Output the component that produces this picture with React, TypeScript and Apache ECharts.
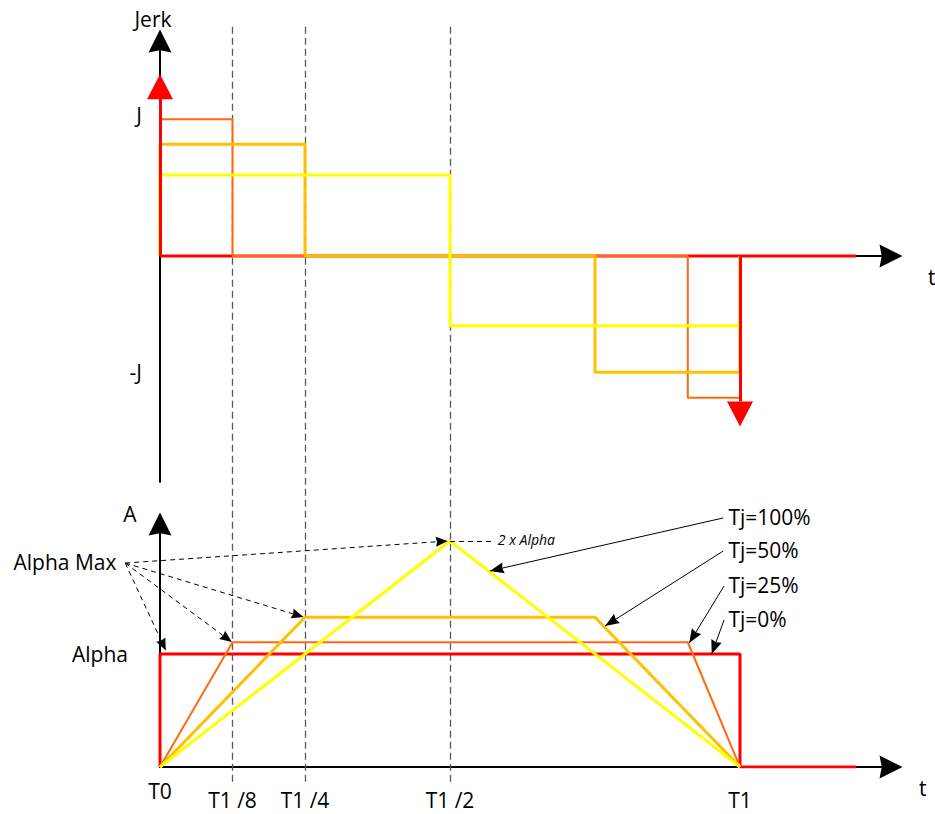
import React, { useEffect, useRef } from 'react';
import * as echarts from 'echarts';

// ---------------- data ----------------
// time is measured in units of T1/8, jerk in units of J, acceleration in units of Alpha
const TIME_TICKS = [0, 1, 2, 4, 8];
const TIME_TICK_LABELS = ['T0', 'T1 /8', 'T1 /4', 'T1 /2', 'T1'];
const GUIDE_TIMES = [1, 2, 4];
const GUIDE_SPAN = [-0.13, 6.56];

const JERK_TICKS = [1, -0.82];
const JERK_TICK_LABELS = ['J', '-J'];
const ACC_TICKS = [1];
const ACC_TICK_LABELS = ['Alpha'];

// jerk profiles [t, jerk]
const JERK_TJ0 = [[0, 0], [9.6, 0]];
const JERK_TJ0_IMPULSES = [[0, 1.11], [8, -1.03]];
const JERK_TJ25 = [[0, 0], [0, 0.968], [1, 0.968], [1, 0], [7.28, 0], [7.28, -1.003], [8, -1.003], [8, 0]];
const JERK_TJ50 = [[0, 0], [0, 0.791], [2, 0.791], [2, 0], [6, 0], [6, -0.823], [8, -0.823], [8, 0]];
const JERK_TJ100 = [[0, 0], [0, 0.573], [4, 0.573], [4, -0.493], [8, -0.493], [8, 0]];

// acceleration profiles [t, acc]
const ACC_TJ0 = [[0, 0], [0, 1], [8, 1], [8, 0], [9.6, 0]];
const ACC_TJ25 = [[0, 0], [1, 1.104], [7.28, 1.104], [8, 0]];
const ACC_TJ50 = [[0, 0], [2, 1.325], [6, 1.325], [8, 0]];
const ACC_TJ100 = [[0, 0], [4, 2], [8, 0]];

// annotations (overlay: time units, acceleration units)
const ALPHA_MAX_FROM = [-0.48, 1.805];
const ALPHA_MAX_TARGETS = [[0.08, 1.03], [0.99, 1.106], [1.98, 1.327], [3.97, 2.0]];
const TWO_ALPHA_LINE = [[4, 2.0], [4.6, 2.0]];
const TJ_ARROWS_FROM = [[7.77, 2.204], [7.77, 1.912], [7.78, 1.602], [7.78, 1.301]];
const TJ_ARROWS_TO = [[4.55, 1.735], [6.14, 1.248], [7.3, 1.097], [7.61, 1.0]];
const NOTE_TEXTS = ['Alpha Max', '2 x Alpha', 'Tj=100%', 'Tj=50%', 'Tj=25%', 'Tj=0%'];
const NOTE_POSITIONS = [[-0.6, 1.814], [4.66, 2.009], [7.84, 2.212], [7.84, 1.92], [7.84, 1.611], [7.84, 1.31]];

// ---------------- layout ----------------
const FONT = "'Open Sans', 'DejaVu Sans', sans-serif";
const X0 = 160;
const PX_PER_T = 72.5;
const X_END = 891;
const TOP_ZERO = 256, PX_PER_J = 141.25, TOP_TOP = 41, TOP_BOTTOM = 482;
const BOT_ZERO = 767, PX_PER_A = 113, BOT_TOP = 524;
const OV_XMIN = -2, OV_XMAX = 10.5, OV_YMIN = -0.25, OV_YMAX = 6.6;

const T_MAX = (X_END - X0) / PX_PER_T;
const J_MIN = -(TOP_BOTTOM - TOP_ZERO) / PX_PER_J;
const J_MAX = (TOP_ZERO - TOP_TOP) / PX_PER_J;
const A_MAX = (BOT_ZERO - BOT_TOP) / PX_PER_A;

const ARROW = 'path://M50,0 L100,100 L50,90 L0,100 Z';
const RED = '#FF0000', ORANGE_RED = '#FF6A10', ORANGE = '#FFC000', YELLOW = '#FFFF00';

const txt = { color: '#000', fontFamily: FONT, fontSize: 21 };

function lookup(ticks: number[], labels: string[]) {
  return (v: number) => {
    const i = ticks.findIndex((t) => Math.abs(t - v) < 1e-6);
    return i >= 0 ? labels[i] : '';
  };
}

// one markLine segment whose end carries an arrow head of size [w, h] with its tip at `to`
// (or its base at `to` when `baseAtEnd`)
function arrowSeg(from: number[], to: number[], symbol: string, w: number, h: number, baseAtEnd = false) {
  return [
    { coord: from, symbol: 'none' },
    { coord: to, symbol, symbolSize: [w, h], symbolOffset: [0, baseAtEnd ? -h / 2 : h / 2] },
  ];
}

function buildOption() {
  const axisLine = {
    show: true,
    onZero: true,
    symbol: ['none', ARROW],
    symbolSize: [23, 23],
    lineStyle: { color: '#000', width: 2 },
  };
  const hidden = { axisTick: { show: false }, splitLine: { show: false } };
  const timeLabel = lookup(TIME_TICKS, TIME_TICK_LABELS);
  const tName = { ...txt, verticalAlign: 'top', lineHeight: 42 };

  const line = (data: number[][], color: string, width: number, gi: number, extra: any = {}) => ({
    type: 'line',
    xAxisIndex: gi,
    yAxisIndex: gi,
    data,
    symbol: 'none',
    showSymbol: false,
    silent: true,
    lineStyle: { color, width },
    ...extra,
  });

  const markBase = { silent: true, animation: false, label: { show: false }, emphasis: { disabled: true } };

  const overlayMarks = (markLine: any) => ({
    type: 'line',
    xAxisIndex: 2,
    yAxisIndex: 2,
    data: [],
    symbol: 'none',
    silent: true,
    markLine: { ...markBase, ...markLine },
  });

  return {
    animation: false,
    backgroundColor: '#fff',
    grid: [
      { left: X0, top: TOP_TOP, width: X_END - X0, height: TOP_BOTTOM - TOP_TOP, containLabel: false, outerBoundsMode: 'none' },
      { left: X0, top: BOT_TOP, width: X_END - X0, height: BOT_ZERO - BOT_TOP, containLabel: false, outerBoundsMode: 'none' },
      {
        left: X0 + OV_XMIN * PX_PER_T,
        top: BOT_ZERO - OV_YMAX * PX_PER_A,
        width: (OV_XMAX - OV_XMIN) * PX_PER_T,
        height: (OV_YMAX - OV_YMIN) * PX_PER_A,
        containLabel: false,
        outerBoundsMode: 'none',
      },
    ],
    xAxis: [
      {
        gridIndex: 0, type: 'value', min: 0, max: T_MAX, axisLine, ...hidden,
        axisLabel: { show: false },
        name: 't', nameLocation: 'end', nameGap: 37,
        nameTextStyle: tName,
      },
      {
        gridIndex: 1, type: 'value', min: 0, max: T_MAX, axisLine, ...hidden,
        axisLabel: {
          show: true,
          customValues: TIME_TICKS,
          margin: 12,
          formatter: (v: number) => {
            const s = timeLabel(v);
            return v === 0 ? `{a|${s}}` : `{b|${s}}`;
          },
          rich: {
            a: { ...txt, lineHeight: 24 },
            b: { ...txt, lineHeight: 42 },
          },
        },
        name: 't', nameLocation: 'end', nameGap: 28,
        nameTextStyle: tName,
      },
      { gridIndex: 2, type: 'value', min: OV_XMIN, max: OV_XMAX, show: false, ...hidden },
    ],
    yAxis: [
      {
        gridIndex: 0, type: 'value', min: J_MIN, max: J_MAX, axisLine, ...hidden,
        axisLabel: { show: true, customValues: JERK_TICKS, margin: 18, ...txt, formatter: lookup(JERK_TICKS, JERK_TICK_LABELS) },
        name: 'Jerk', nameLocation: 'end', nameGap: 12,
        nameTextStyle: { ...txt, padding: [0, 14, 0, 0] },
      },
      {
        gridIndex: 1, type: 'value', min: 0, max: A_MAX, axisLine, ...hidden,
        axisLabel: { show: true, customValues: ACC_TICKS, margin: 32, ...txt, formatter: lookup(ACC_TICKS, ACC_TICK_LABELS) },
        name: 'A', nameLocation: 'end', nameGap: 0,
        nameTextStyle: { ...txt, padding: [0, 60, 0, 0] },
      },
      { gridIndex: 2, type: 'value', min: OV_YMIN, max: OV_YMAX, show: false, ...hidden },
    ],
    series: [
      line(JERK_TJ0, RED, 3, 0, {
        markLine: {
          ...markBase,
          lineStyle: { color: RED, width: 3, type: 'solid' },
          itemStyle: { color: RED },
          data: JERK_TJ0_IMPULSES.map(([t, j]) => arrowSeg([t, 0], [t, j], 'triangle', 26, 25, true)),
        },
      }),
      line(JERK_TJ25, ORANGE_RED, 2, 0),
      line(JERK_TJ50, ORANGE, 3, 0),
      line(JERK_TJ100, YELLOW, 3, 0),
      line(ACC_TJ0, RED, 3, 1),
      line(ACC_TJ25, ORANGE_RED, 2, 1),
      line(ACC_TJ50, ORANGE, 3, 1),
      line(ACC_TJ100, YELLOW, 3, 1),
      overlayMarks({
        z: 1,
        symbol: 'none',
        lineStyle: { color: '#595959', width: 1.3, type: [7, 4] },
        data: GUIDE_TIMES.map((t) => [{ coord: [t, GUIDE_SPAN[0]] }, { coord: [t, GUIDE_SPAN[1]] }]),
      }),
      overlayMarks({
        lineStyle: { color: '#000', width: 1, type: [5, 4] },
        itemStyle: { color: '#000' },
        data: ALPHA_MAX_TARGETS.map((p) => arrowSeg(ALPHA_MAX_FROM, p, ARROW, 10, 12)),
      }),
      overlayMarks({
        symbol: 'none',
        lineStyle: { color: '#000', width: 1, type: [5, 4] },
        data: [[{ coord: TWO_ALPHA_LINE[0] }, { coord: TWO_ALPHA_LINE[1] }]],
      }),
      overlayMarks({
        lineStyle: { color: '#000', width: 1, type: 'solid' },
        itemStyle: { color: '#000' },
        data: TJ_ARROWS_FROM.map((p, i) => arrowSeg(p, TJ_ARROWS_TO[i], ARROW, 11, 14)),
      }),
      {
        type: 'scatter',
        xAxisIndex: 2,
        yAxisIndex: 2,
        silent: true,
        symbolSize: 0,
        itemStyle: { color: '#000', opacity: 1 },
        data: NOTE_TEXTS.map((t, i) => {
          const isLeft = t === 'Alpha Max';
          const small = t === '2 x Alpha';
          return {
            value: NOTE_POSITIONS[i],
            name: t,
            label: {
              show: true,
              formatter: '{b}',
              position: isLeft ? 'left' : 'right',
              distance: 0,
              ...txt,
              opacity: 1,
              textBorderWidth: 0,
              fontSize: small ? 14 : 21,
              fontStyle: small ? 'italic' : 'normal',
            },
          };
        }),
      },
    ],
  };
}

export default function App() {
  const ref = useRef<HTMLDivElement>(null);
  useEffect(() => {
    const chart = echarts.init(ref.current!, null, { renderer: 'svg' });
    chart.setOption(buildOption() as any);
    return () => chart.dispose();
  }, []);
  return <div ref={ref} style={{ position: 'absolute', left: 0, top: 0, width: 935, height: 814 }} />;
}
